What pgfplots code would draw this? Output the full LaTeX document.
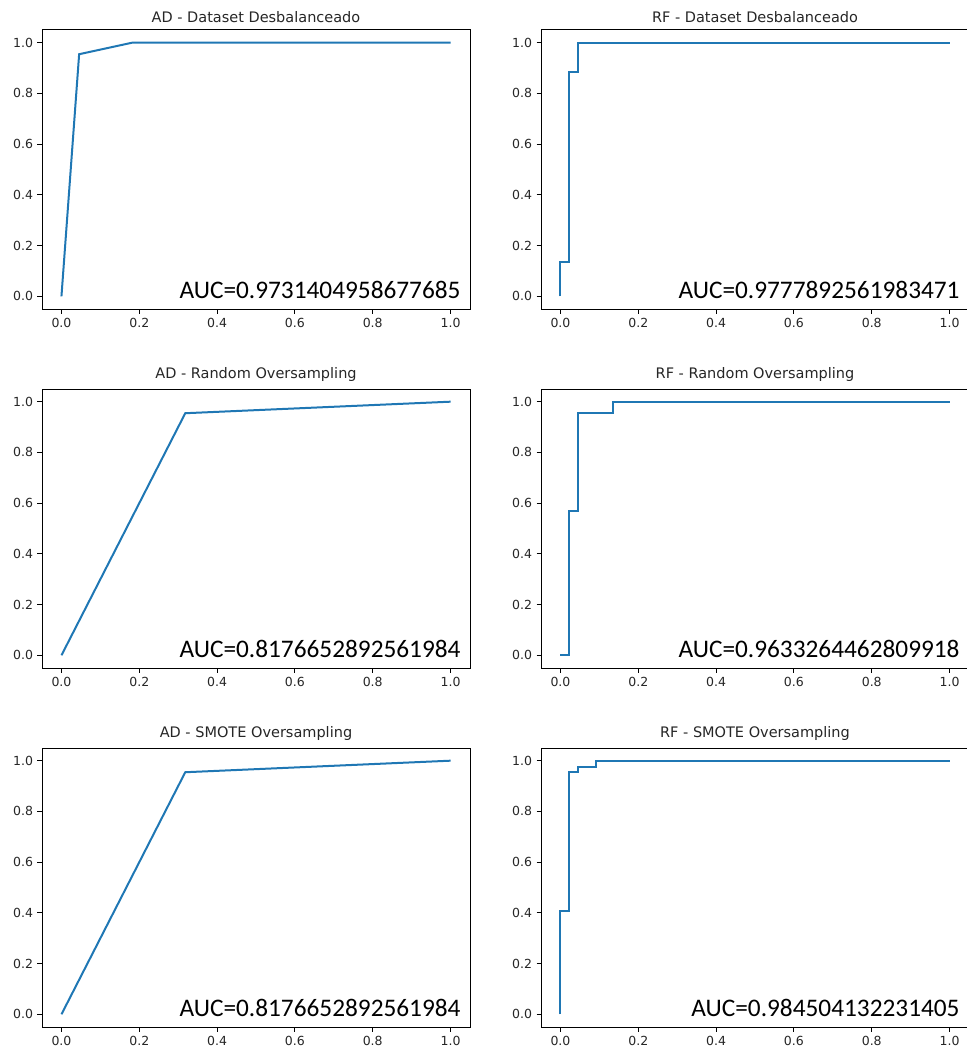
\documentclass[border=0pt]{standalone}
\usepackage{pgfplots}
\pgfplotsset{compat=1.18}
\usepackage{fontspec}
\setmainfont{DejaVu Sans}
\newfontfamily\aucfont{Carlito}
\definecolor{mplblue}{HTML}{1F77B4}
\tikzset{auc/.style={anchor=base east, font=\aucfont\fontsize{25.3}{28}\selectfont, text=black},
  roc/.style={color=mplblue, line width=2pt, line join=miter, mark=none}}
\pgfplotsset{
  rocax/.style={
    scale only axis, width=428pt, height=279pt,
    xmin=-0.05, xmax=1.05, ymin=-0.05, ymax=1.05,
    xtick={0,0.2,0.4,0.6,0.8,1.0}, ytick={0,0.2,0.4,0.6,0.8,1.0},
    /pgf/number format/assume math mode=true,
    /pgf/number format/.cd, fixed, fixed zerofill, precision=1, /pgfplots/.cd,
    tick align=outside, tick pos=left, major tick length=4.5pt,
    tick style={black, line width=0.9pt},
    axis line style={black, line width=1pt},
    ticklabel style={font=\fontsize{12.5}{14}\selectfont, text=black!85},
    xticklabel style={yshift=-1pt},
    yticklabel style={xshift=-1pt},
    title style={font=\fontsize{14.5}{16}\selectfont, yshift=-2pt, text=black!85},
    anchor=north west,
  },
}
\begin{document}
\begin{tikzpicture}
\useasboundingbox (0,0) rectangle (966pt,-1051pt);
% Row 1
\begin{axis}[rocax, at={(42pt,-30pt)}, title={AD - Dataset Desbalanceado}]
\addplot[roc] coordinates {(0,0) (0.04545,0.95455) (0.18182,1) (1,1)};
\node[auc] at (rel axis cs:1,0) [xshift=-6pt, yshift=11pt] {AUC=0.9731404958677685};
\end{axis}
\begin{axis}[rocax, at={(541pt,-30pt)}, title={RF - Dataset Desbalanceado}]
\addplot[roc] coordinates {(0,0) (0,0.136) (0.0227,0.136) (0.0227,0.886) (0.0455,0.886) (0.0455,1) (1,1)};
\node[auc] at (rel axis cs:1,0) [xshift=-6pt, yshift=11pt] {AUC=0.9777892561983471};
\end{axis}
% Row 2
\begin{axis}[rocax, at={(42pt,-389pt)}, title={AD - Random Oversampling}]
\addplot[roc] coordinates {(0,0) (0.3182,0.9545) (1,1)};
\node[auc] at (rel axis cs:1,0) [xshift=-6pt, yshift=11pt] {AUC=0.8176652892561984};
\end{axis}
\begin{axis}[rocax, at={(541pt,-389pt)}, title={RF - Random Oversampling}]
\addplot[roc] coordinates {(0,0) (0.0227,0) (0.0227,0.568) (0.0455,0.568) (0.0455,0.955) (0.136,0.955) (0.136,1) (1,1)};
\node[auc] at (rel axis cs:1,0) [xshift=-6pt, yshift=11pt] {AUC=0.9633264462809918};
\end{axis}
% Row 3
\begin{axis}[rocax, at={(42pt,-748pt)}, title={AD - SMOTE Oversampling}]
\addplot[roc] coordinates {(0,0) (0.3182,0.9545) (1,1)};
\node[auc] at (rel axis cs:1,0) [xshift=-6pt, yshift=11pt] {AUC=0.8176652892561984};
\end{axis}
\begin{axis}[rocax, at={(541pt,-748pt)}, title={RF - SMOTE Oversampling}]
\addplot[roc] coordinates {(0,0) (0,0.409) (0.0227,0.409) (0.0227,0.955) (0.0455,0.955) (0.0455,0.977) (0.0909,0.977) (0.0909,1) (1,1)};
\node[auc] at (rel axis cs:1,0) [xshift=-6pt, yshift=11pt] {AUC=0.984504132231405};
\end{axis}
\end{tikzpicture}
\end{document}
